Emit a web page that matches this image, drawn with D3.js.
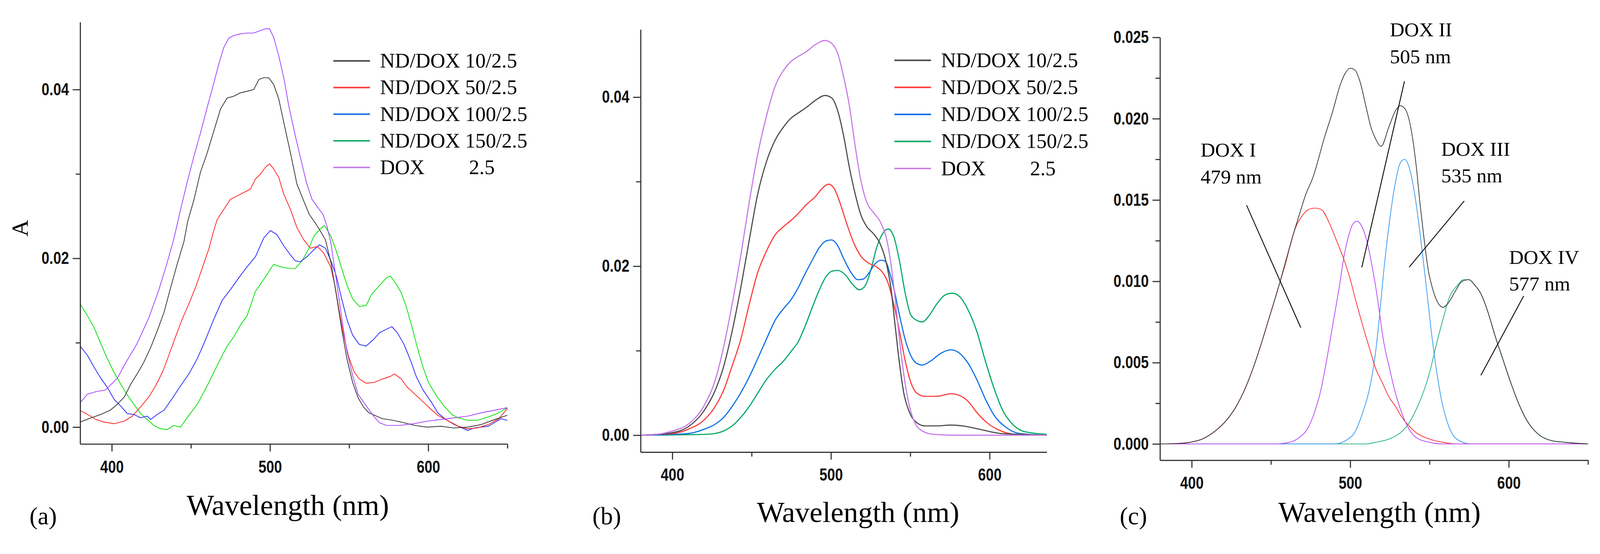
<!DOCTYPE html>
<html>
<head>
<meta charset="utf-8">
<script src="https://cdn.jsdelivr.net/npm/d3@7"></script>
<style>
  html, body { margin: 0; padding: 0; background: #fff; overflow: hidden; }
  .chart { width: 100vw; height: 100vh; }
  svg { display: block; }
</style>
</head>
<body>
<div class="chart"></div>
<script>
var svgWidth = 4281;
var svgHeight = 1419;

// ---- data: [wavelength nm, absorbance] ----
// panel (a): raw spectra
var aND10 = [[380,0.0006],[387,0.0011],[393,0.0015],[399,0.0020],[403.5,0.0027],[408,0.0036],[412,0.0051],[416,0.0063],[420,0.0076],[424.5,0.0094],[428.7,0.0114],[433,0.0136],[437,0.0164],[441.3,0.0193],[445.6,0.0220],[448,0.0244],[452,0.0270],[456,0.0302],[460.3,0.0325],[464.5,0.0351],[468.7,0.0377],[472.9,0.0390],[477,0.0392],[481,0.0396],[485.5,0.0398],[489.7,0.0400],[493,0.0412],[496,0.0414],[499.2,0.0414],[502.3,0.0406],[505.5,0.0389],[508.7,0.0361],[512.9,0.0325],[517,0.0288],[521.3,0.0268],[524.8,0.0252],[528.2,0.0243],[531.6,0.0233],[535,0.0222],[538.5,0.0195],[541.9,0.0157],[545.3,0.0116],[548.7,0.0080],[552.2,0.0053],[555.6,0.0035],[559,0.0024],[562.4,0.0017],[566,0.0014],[571,0.0010],[578,0.0008],[585,0.0005],[591.5,0.0002],[599,0.0000],[608,0.0001],[616,-0.0001],[625,0.0000],[633.5,0.0003],[642,0.0009],[650,0.0014]];
var aND50 = [[380,0.0020],[384.6,0.0015],[390,0.0009],[395,0.0006],[401.4,0.0004],[407.7,0.0007],[413,0.0013],[418.2,0.0024],[423.5,0.0036],[427.7,0.0049],[432,0.0065],[436,0.0085],[440.3,0.0107],[444.5,0.0128],[448.7,0.0146],[453,0.0166],[457.1,0.0188],[461.3,0.0211],[464,0.0230],[466.6,0.0246],[470.8,0.0258],[475,0.0270],[479.2,0.0274],[483.4,0.0278],[487.6,0.0282],[490.8,0.0294],[494,0.0300],[497.1,0.0308],[499.7,0.0312],[502.3,0.0306],[505.5,0.0296],[508.7,0.0276],[512.9,0.0258],[517.1,0.0236],[521.3,0.0222],[525.5,0.0212],[530,0.0214],[534,0.0206],[538.3,0.0190],[541,0.0168],[543.6,0.0139],[546.2,0.0112],[549.6,0.0084],[553,0.0066],[556.4,0.0057],[560.7,0.0052],[566,0.0053],[571,0.0057],[576,0.0060],[578.7,0.0063],[583,0.0057],[586.4,0.0048],[591.5,0.0039],[596.7,0.0030],[601.8,0.0021],[606,0.0014],[612,0.0008],[619,0.0001],[625,-0.0002],[631,-0.0001],[638,0.0003],[644.6,0.0010],[650,0.0022]];
var aND100 = [[380,0.0096],[384.6,0.0085],[388.8,0.0071],[393,0.0058],[397.2,0.0047],[401.4,0.0033],[405.6,0.0025],[409.8,0.0016],[414,0.0015],[418.2,0.0011],[422.4,0.0013],[424.5,0.0009],[428.7,0.0015],[433,0.0020],[438.2,0.0034],[443.5,0.0049],[448.7,0.0063],[454,0.0081],[458.2,0.0099],[464.5,0.0128],[469.7,0.0150],[475,0.0163],[480.3,0.0177],[485.5,0.0190],[490.8,0.0202],[496,0.0224],[500.2,0.0233],[504.4,0.0228],[508.6,0.0215],[512.9,0.0204],[516,0.0197],[519.2,0.0196],[523.4,0.0202],[527.6,0.0210],[531.3,0.0216],[535,0.0212],[538.5,0.0197],[541.9,0.0179],[545.3,0.0152],[548.7,0.0127],[552.2,0.0109],[556.4,0.0098],[560.7,0.0096],[565,0.0103],[569.3,0.0112],[573.6,0.0116],[577,0.0119],[580.4,0.0112],[584.7,0.0098],[589,0.0078],[592.4,0.0060],[596.7,0.0044],[601.8,0.0030],[606,0.0017],[610.4,0.0010],[616.4,0.0003],[625,-0.0004],[629,-0.0001],[638,0.0001],[646,0.0010],[650,0.0008]];
var aND150 = [[380,0.0146],[384.6,0.0132],[388.8,0.0118],[393,0.0099],[397.2,0.0081],[401.4,0.0065],[405.6,0.0051],[409.8,0.0038],[414,0.0027],[418.2,0.0016],[422.4,0.0009],[426.6,0.0002],[430.8,-0.0002],[435,-0.0003],[439.2,0.0002],[443.4,0.0000],[447.6,0.0011],[454,0.0027],[460.3,0.0049],[464.5,0.0065],[468.7,0.0081],[472.9,0.0096],[477.1,0.0107],[481.3,0.0121],[485.5,0.0132],[490.8,0.0161],[496,0.0175],[502.3,0.0193],[506.5,0.0190],[511.8,0.0188],[516,0.0188],[520.2,0.0197],[524.4,0.0211],[527.6,0.0226],[531.8,0.0235],[534.4,0.0239],[538.3,0.0227],[542,0.0208],[545.3,0.0188],[548.7,0.0168],[552.2,0.0152],[556.4,0.0143],[560.7,0.0144],[564.1,0.0157],[569.3,0.0168],[573.6,0.0177],[576.1,0.0179],[579.6,0.0170],[583,0.0159],[586.4,0.0141],[589.8,0.0118],[593.3,0.0093],[596.7,0.0071],[600.1,0.0053],[605.2,0.0037],[610.4,0.0024],[615.5,0.0014],[619,0.0011],[625,0.0008],[631,0.0008],[638,0.0012],[644.6,0.0017],[650,0.0023]];
var aDOX = [[380,0.0029],[384.6,0.0039],[390,0.0042],[396,0.0044],[403.5,0.0058],[408.7,0.0076],[416,0.0099],[423.5,0.0130],[429.8,0.0163],[435,0.0195],[439.2,0.0223],[443.5,0.0258],[447.6,0.0290],[451.9,0.0321],[456.1,0.0349],[460.3,0.0379],[464.5,0.0408],[467.6,0.0430],[470.8,0.0450],[474,0.0461],[477.1,0.0464],[481.3,0.0466],[485.5,0.0467],[489.7,0.0467],[494,0.0470],[497.1,0.0472],[499.7,0.0472],[502.3,0.0462],[505.5,0.0440],[508.7,0.0414],[511.8,0.0381],[516,0.0345],[519.4,0.0318],[523,0.0290],[526.5,0.0270],[529.9,0.0261],[533.5,0.0252],[536,0.0238],[538.5,0.0218],[541,0.0186],[543.6,0.0152],[546.2,0.0118],[548.7,0.0089],[552.1,0.0062],[555.6,0.0039],[559,0.0030],[562.4,0.0021],[565.9,0.0012],[569.3,0.0005],[573.6,0.0002],[582,0.0002],[590.7,0.0004],[599.3,0.0007],[607.8,0.0009],[616.4,0.0011],[625,0.0013],[633.5,0.0017],[642,0.0020],[650,0.0023]];

// panel (b): smoothed spectra
var bND10 = [[380,0],[390,0.0001],[400,0.0003],[410,0.0010],[420,0.0029],[427,0.0053],[432.3,0.0081],[437.7,0.0123],[443.1,0.0174],[448.5,0.0231],[453.9,0.0286],[459.4,0.0324],[464.8,0.0349],[470.2,0.0365],[474.7,0.0375],[479.2,0.0381],[484.6,0.0388],[490,0.0396],[496.3,0.0402],[500.5,0.0399],[504.4,0.0383],[508,0.0354],[511.6,0.0317],[515.2,0.0286],[518.8,0.0261],[522.5,0.0247],[527,0.0238],[530.6,0.0228],[534.2,0.0209],[537.8,0.0174],[540.5,0.0129],[543.2,0.0085],[545.9,0.0050],[549.5,0.0027],[554,0.0015],[559.4,0.0011],[566.6,0.0011],[575.7,0.0012],[582.9,0.0011],[593.7,0.0007],[607.2,0.0002],[620.7,0.0001],[636,0]];
var bND50 = [[380,0],[390,0.0001],[400,0.0002],[410,0.0007],[420,0.0018],[427,0.0034],[432.3,0.0053],[437.7,0.0082],[443.1,0.0113],[448.5,0.0155],[453.9,0.0193],[459.4,0.0218],[464.8,0.0237],[470.2,0.0247],[474.7,0.0254],[479.2,0.0262],[484.6,0.0273],[490,0.0282],[495,0.0293],[498.5,0.0297],[502,0.0292],[505.5,0.0276],[510,0.0250],[514.5,0.0227],[518.8,0.0212],[523.4,0.0204],[528.8,0.0199],[532.4,0.0193],[536,0.0180],[539.6,0.0155],[543.2,0.0123],[546.8,0.0088],[550.4,0.0062],[554,0.0050],[559.4,0.0046],[566.6,0.0046],[575.7,0.0049],[581.1,0.0047],[586.5,0.0040],[591.9,0.0027],[598.2,0.0015],[607.2,0.0005],[616.2,0.0001],[636,0]];
var bND100 = [[380,0],[400,0.0001],[410,0.0002],[420,0.0007],[427,0.0013],[432.3,0.0021],[437.7,0.0034],[443.1,0.0050],[448.5,0.0069],[453.9,0.0091],[459.4,0.0114],[464.8,0.0136],[470.2,0.0150],[474.7,0.0160],[479.2,0.0174],[483.7,0.0191],[488.2,0.0207],[492.7,0.0222],[497,0.0230],[500.5,0.0231],[504,0.0225],[508,0.0209],[512.5,0.0193],[517,0.0184],[520.6,0.0185],[524.3,0.0193],[527.9,0.0203],[531.5,0.0207],[534.2,0.0206],[536.9,0.0193],[539.6,0.0174],[543.2,0.0142],[546.8,0.0113],[550.4,0.0094],[554,0.0085],[557.6,0.0083],[563,0.0088],[569.3,0.0097],[575.7,0.0101],[581.1,0.0097],[586.5,0.0085],[591.9,0.0066],[597.3,0.0043],[602.7,0.0024],[609.9,0.0010],[618.9,0.0002],[636,0]];
var bND150 = [[380,0],[420,0.0001],[427,0.0002],[432.3,0.0005],[437.7,0.0011],[443.1,0.0021],[448.5,0.0034],[453.9,0.0050],[459.4,0.0066],[464.8,0.0078],[470.2,0.0088],[475.6,0.0101],[479.2,0.0110],[483.7,0.0129],[488.2,0.0151],[492.7,0.0172],[497,0.0188],[500.5,0.0194],[504.4,0.0195],[508.9,0.0190],[513.4,0.0179],[518,0.0172],[521.6,0.0177],[525.2,0.0196],[528.8,0.0222],[532.4,0.0238],[536,0.0244],[539.6,0.0235],[543.2,0.0206],[546.8,0.0168],[550.4,0.0142],[554,0.0136],[557.6,0.0134],[562.1,0.0142],[566.6,0.0155],[572,0.0166],[576.6,0.0168],[581.1,0.0164],[586.5,0.0148],[591.9,0.0123],[597.3,0.0088],[602.7,0.0056],[608.1,0.0030],[613.5,0.0015],[620.7,0.0005],[629.8,0.0002],[636,0.0001]];
var bDOX = [[380,0],[390,0.0001],[400,0.0005],[410,0.0013],[420,0.0035],[427,0.0065],[432.3,0.0104],[437.7,0.0155],[443.1,0.0212],[448.5,0.0276],[453.9,0.0333],[459.4,0.0378],[464.8,0.0413],[470.2,0.0432],[474.7,0.0442],[479.2,0.0448],[484.6,0.0454],[490,0.0462],[496.3,0.0467],[500.8,0.0463],[504.4,0.0451],[508,0.0424],[511.6,0.0390],[515.2,0.0343],[518.8,0.0302],[522.5,0.0276],[527,0.0263],[531.5,0.0251],[535.1,0.0232],[537.8,0.0203],[540.5,0.0161],[543.2,0.0113],[545.9,0.0072],[549.5,0.0034],[553.1,0.0014],[557.6,0.0005],[565,0.0001],[580,0],[636,0]];

// panel (c): fitted envelope and four components
var cFit = [[380,0],[390.9,0.00003],[398.8,0.0001],[406.6,0.0003],[414.5,0.00077],[422.3,0.0015],[428.6,0.0024],[434.1,0.0035],[439.6,0.0049],[444.3,0.0063],[449,0.0078],[453.7,0.0093],[455.8,0.0100],[459.2,0.0112],[463.2,0.0126],[467.9,0.0141],[471.8,0.0153],[476.5,0.0164],[483.9,0.0189],[489.1,0.0205],[493.4,0.0220],[496.9,0.0228],[499.9,0.0231],[502.9,0.0230],[506.4,0.0222],[509.8,0.0208],[513.3,0.0194],[515.8,0.0188],[519.5,0.0183],[524.4,0.0195],[528.6,0.0205],[531.6,0.0208],[534.6,0.0206],[538.1,0.0195],[541.5,0.0172],[544.1,0.0147],[546.6,0.0126],[549.2,0.0107],[551.8,0.0096],[555.2,0.0087],[558.6,0.0084],[562.1,0.0087],[566.3,0.0094],[570.6,0.0100],[574.9,0.0101],[578.3,0.0098],[582.6,0.0092],[586.9,0.0081],[591.2,0.0067],[596.3,0.0052],[601.5,0.0037],[606.6,0.0024],[611.7,0.0014],[618.6,0.0006],[627.2,0.0002],[635.7,0.0001],[650,0]];
var cDOX1 = [[380,0],[390.9,0.00003],[398.8,0.0001],[406.6,0.0003],[414.5,0.00077],[422.3,0.0015],[428.6,0.0024],[434.1,0.0035],[439.6,0.0049],[444.3,0.0063],[449,0.0078],[453.7,0.0093],[455.8,0.0100],[459.2,0.0111],[461.6,0.0120],[465.5,0.0133],[469.5,0.0140],[473.4,0.0144],[477.7,0.0145],[482,0.0144],[486.7,0.0136],[491.4,0.0125],[495.8,0.0114],[499.5,0.0103],[503.8,0.0087],[508.1,0.0072],[512.4,0.0058],[515.8,0.0047],[520.1,0.0038],[524.4,0.0029],[528.6,0.0023],[532.9,0.0016],[537.2,0.0011],[541.5,0.0007],[550,0.0003],[558.6,0.0001],[567,0],[650,0]];
var cDOX2 = [[380,0],[453,0],[461.6,0.0001],[467.9,0.0004],[473.4,0.0010],[477.3,0.0019],[481.2,0.0032],[485.2,0.0052],[489.1,0.0074],[493,0.0096],[496.2,0.0116],[499,0.0128],[501.5,0.0135],[504.2,0.0137],[507.2,0.0134],[510.7,0.0124],[514.2,0.0107],[516,0.0097],[518.4,0.0081],[520.9,0.0064],[524.4,0.0048],[528.6,0.0031],[532.9,0.0018],[537.2,0.0009],[541.5,0.0004],[550.1,0.0001],[558.6,0],[650,0]];
var cDOX3 = [[380,0],[490,0],[501.2,0.0005],[508.1,0.0020],[512.4,0.0035],[515.8,0.0055],[518.4,0.0078],[520.9,0.0104],[524.4,0.0134],[527.8,0.0157],[531.2,0.0172],[534.2,0.0175],[537.2,0.0170],[540.6,0.0154],[544.1,0.0129],[547.5,0.0101],[550.9,0.0071],[554.3,0.0046],[557.8,0.0026],[562.1,0.0011],[567.2,0.0003],[575.8,0],[650,0]];
var cDOX4 = [[380,0],[510,0],[515.8,0.0001],[524.4,0.0003],[532.9,0.0008],[537.2,0.0013],[541.5,0.0021],[545.8,0.0031],[550.1,0.0044],[554.3,0.0061],[558.6,0.0077],[562.9,0.0091],[567.2,0.0097],[571.5,0.0101],[574.9,0.0101],[578.3,0.0098],[582.6,0.0092],[586.9,0.0081],[591.2,0.0067],[596.3,0.0052],[601.5,0.0037],[606.6,0.0024],[611.7,0.0014],[618.6,0.0006],[627.2,0.0002],[635.7,0.0001],[650,0]];

// ticks and labels
var xTicks = [400, 500, 600];
var xMinor = [450, 550, 650];
var abYTicks = [0, 0.02, 0.04];
var abYMinor = [0.01, 0.03];
var cYTicks = [0, 0.005, 0.010, 0.015, 0.020, 0.025];
var cYMinor = [0.0025, 0.0075, 0.0125, 0.0175, 0.0225];
var legendLabels = ["ND/DOX 10/2.5", "ND/DOX 50/2.5", "ND/DOX 100/2.5", "ND/DOX 150/2.5", "DOX"];
var legendSuffix = ["", "", "", "", "2.5"];
var panelLabels = ["(a)", "(b)", "(c)"];
var xTitle = "Wavelength (nm)";
var yTitle = "A";

// peak annotations of panel (c)
var peakNames = ["DOX I", "DOX II", "DOX III", "DOX IV"];
var peakTexts = ["479 nm", "505 nm", "535 nm", "577 nm"];
var peakLabelAt = [[405.6, 0.01766], [525.0, 0.02506], [557.4, 0.01772], [600.2, 0.01107]];
var leaderFrom = [[434.6, 0.01468], [534.2, 0.0223], [571.9, 0.01494], [609.4, 0.0091]];
var leaderTo = [[468.8, 0.00715], [507.3, 0.01086], [537.2, 0.01087], [582.4, 0.00422]];

// scale the whole figure to whatever viewport the page gets
var svg = d3.select(".chart")
  .append("svg")
  .attr("width", "100%")
  .attr("height", "100%")
  .attr("viewBox", `0 0 ${svgWidth} ${svgHeight}`)
  .attr("preserveAspectRatio", "xMidYMid meet");

svg.append("rect").attr("width", svgWidth).attr("height", svgHeight).attr("fill", "#fff");

var serif = "'Liberation Serif', 'Times New Roman', serif";
var sans = "'Liberation Sans', Arial, sans-serif";

// squeeze the bold tick labels like the narrow font of the figure
function condense(sel, k) {
  sel.each(function() {
    var w = this.getComputedTextLength();
    d3.select(this).attr("textLength", w * k).attr("lengthAdjust", "spacingAndGlyphs");
  });
}

function drawPanel(p) {
  var x = d3.scaleLinear().domain(p.xDomain).range([p.left, p.right]);
  var y = d3.scaleLinear().domain(p.yDomain).range([p.bottom, p.top]);
  var g = svg.append("g");

  // curves
  var line = d3.line()
    .x(d => x(d[0]))
    .y(d => y(d[1]))
    .curve(p.curve);

  p.series.forEach(function(s) {
    g.append("path")
      .datum(s.data)
      .attr("fill", "none")
      .attr("stroke", s.color)
      .attr("stroke-width", p.lineWidth)
      .attr("stroke-linejoin", "round")
      .attr("d", line);
  });

  // minor ticks
  g.append("g")
    .attr("transform", `translate(0, ${p.bottom})`)
    .call(d3.axisBottom(x).tickValues(xMinor.filter(v => v <= p.xDomain[1])).tickSize(12).tickFormat(""))
    .call(a => a.select(".domain").remove());
  g.append("g")
    .attr("transform", `translate(${p.left}, 0)`)
    .call(d3.axisLeft(y).tickValues(p.yMinor).tickSize(12).tickFormat(""))
    .call(a => a.select(".domain").remove());

  // major axes
  var xa = g.append("g")
    .attr("transform", `translate(0, ${p.bottom})`)
    .call(d3.axisBottom(x).tickValues(xTicks).tickSize(20).tickSizeOuter(0).tickPadding(24).tickFormat(d3.format("d")));
  var ya = g.append("g")
    .attr("transform", `translate(${p.left}, 0)`)
    .call(d3.axisLeft(y).tickValues(p.yTicks).tickSize(20).tickSizeOuter(0).tickPadding(10).tickFormat(d3.format(p.yFormat)));

  [xa, ya].forEach(function(a) {
    a.selectAll("line, path").attr("stroke", "#333").attr("stroke-width", 3);
    a.selectAll("text")
      .attr("font-family", sans)
      .attr("font-weight", "bold")
      .attr("font-size", 46)
      .attr("fill", "#111");
    condense(a.selectAll("text"), 0.82);
  });
  g.selectAll("g.tick line").attr("stroke", "#333").attr("stroke-width", 3);

  // axis title
  g.append("text")
    .attr("x", p.titleX)
    .attr("y", p.titleY)
    .attr("text-anchor", "middle")
    .attr("font-family", serif)
    .attr("font-size", 78)
    .attr("fill", "#000")
    .text(xTitle);

  // panel letter
  g.append("text")
    .attr("x", p.letterX)
    .attr("y", 1372)
    .attr("font-family", serif)
    .attr("font-size", 66)
    .attr("fill", "#000")
    .text(p.letter);

  return {x: x, y: y, g: g};
}

function drawLegend(lx, ly, step, colors) {
  var lg = svg.append("g").attr("transform", `translate(${lx}, ${ly})`);
  legendLabels.forEach(function(name, i) {
    lg.append("line")
      .attr("x1", 0).attr("x2", 98)
      .attr("y1", i * step).attr("y2", i * step)
      .attr("stroke", colors[i])
      .attr("stroke-width", 4);
    lg.append("text")
      .attr("x", 125)
      .attr("y", i * step + 18)
      .attr("font-family", serif)
      .attr("font-size", 55)
      .attr("fill", "#000")
      .text(name);
    if (legendSuffix[i]) {
      lg.append("text")
        .attr("x", 125 + 238)
        .attr("y", i * step + 18)
        .attr("font-family", serif)
        .attr("font-size", 55)
        .attr("fill", "#000")
        .text(legendSuffix[i]);
    }
  });
}

var legendColors = ["#4a4a4a", "#ff3b3b", "#0a6fe8", "#0aa865", "#c67ae8"];

// ---------- panel (a) ----------
var pa = drawPanel({
  left: 214.5, right: 1357.5, top: 27, bottom: 1156.5,
  xDomain: [380, 650], yDomain: [-0.002, 0.048],
  yTicks: abYTicks, yMinor: abYMinor, yFormat: ".2f",
  curve: d3.curveLinear, lineWidth: 2,
  series: [
    {data: aND150, color: "#00e000"},
    {data: aND100, color: "#2525ff"},
    {data: aND50, color: "#ff2020"},
    {data: aND10, color: "#333333"},
    {data: aDOX, color: "#a040ff"}
  ],
  titleX: 770, titleY: 1347, letterX: 79, letter: panelLabels[0]
});

svg.append("text")
  .attr("transform", "translate(74, 579) rotate(-90)")
  .attr("text-anchor", "middle")
  .attr("font-family", serif)
  .attr("font-size", 62)
  .attr("fill", "#000")
  .text(yTitle);

drawLegend(892, 131, 71.3, legendColors);

// ---------- panel (b) ----------
var pb = drawPanel({
  left: 1714, right: 2800.6, top: 47, bottom: 1178.3,
  xDomain: [380, 636], yDomain: [-0.002, 0.048],
  yTicks: abYTicks, yMinor: abYMinor, yFormat: ".2f",
  curve: d3.curveMonotoneX, lineWidth: 3,
  series: [
    {data: bND150, color: "#00a862"},
    {data: bND100, color: "#0a6fe8"},
    {data: bND50, color: "#ff3b3b"},
    {data: bND10, color: "#4a4a4a"},
    {data: bDOX, color: "#c67ae8"}
  ],
  titleX: 2296, titleY: 1365, letterX: 1585, letter: panelLabels[1]
});

drawLegend(2393, 129.4, 72.4, legendColors);

// ---------- panel (c) ----------
var pc = drawPanel({
  left: 3103.7, right: 4249, top: 68, bottom: 1200,
  xDomain: [380, 650], yDomain: [-0.001, 0.025],
  yTicks: cYTicks, yMinor: cYMinor, yFormat: ".3f",
  curve: d3.curveMonotoneX, lineWidth: 2,
  series: [
    {data: cDOX4, color: "#1fb080"},
    {data: cDOX3, color: "#3a9af0"},
    {data: cDOX1, color: "#ff3030"},
    {data: cDOX2, color: "#b845f5"},
    {data: cFit, color: "#3a3a3a"}
  ],
  titleX: 3691, titleY: 1365, letterX: 2996, letter: panelLabels[2]
});

// leader lines and peak labels
peakNames.forEach(function(name, i) {
  pc.g.append("line")
    .attr("x1", pc.x(leaderFrom[i][0])).attr("y1", pc.y(leaderFrom[i][1]))
    .attr("x2", pc.x(leaderTo[i][0])).attr("y2", pc.y(leaderTo[i][1]))
    .attr("stroke", "#111")
    .attr("stroke-width", 2.5);
  var t = pc.g.append("text")
    .attr("x", pc.x(peakLabelAt[i][0]))
    .attr("y", pc.y(peakLabelAt[i][1]))
    .attr("font-family", serif)
    .attr("font-size", 54)
    .attr("fill", "#000");
  t.append("tspan").text(name);
  t.append("tspan")
    .attr("x", pc.x(peakLabelAt[i][0]))
    .attr("dy", 71.5)
    .text(peakTexts[i]);
});
</script>
</body>
</html>
